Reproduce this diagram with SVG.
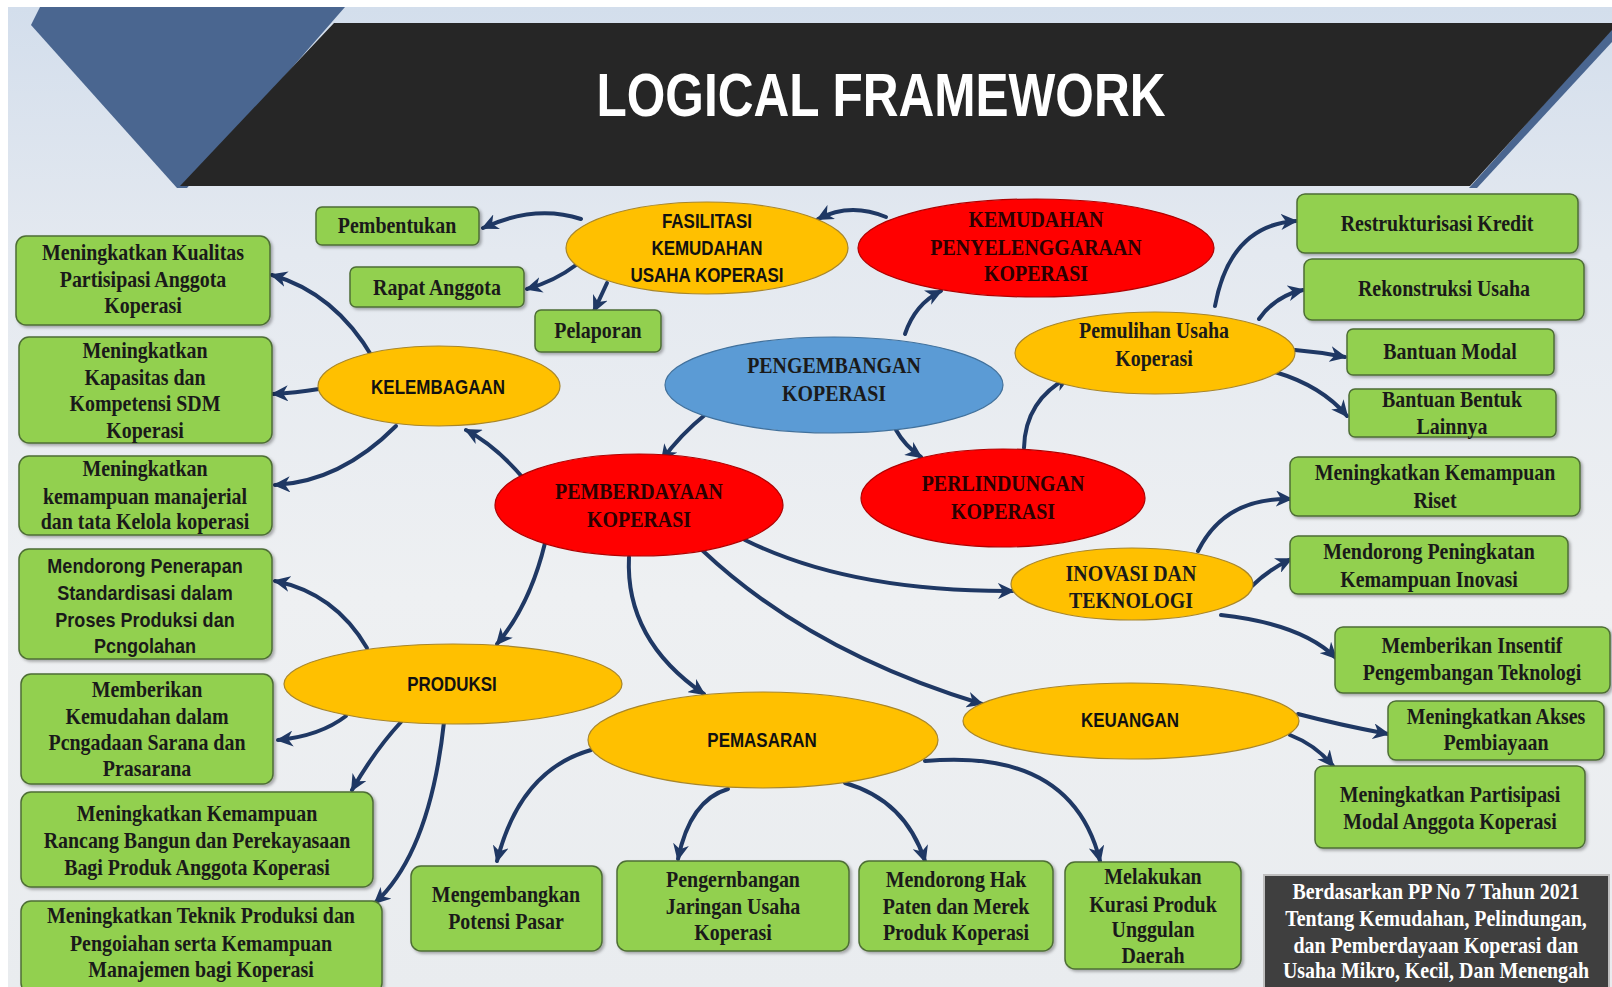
<svg xmlns="http://www.w3.org/2000/svg" width="1612" height="987" viewBox="0 0 1612 987">
<style>
.bg{fill:url(#bgg)}
.box{fill:#92D050;stroke:#4e6e35;stroke-width:1.5;filter:url(#sh)}
.yel{fill:#FFC000;stroke:#a8862a;stroke-width:1.2}
.red{fill:#FF0000;stroke:#b00000;stroke-width:1.2}
.blu{fill:#5B9BD5;stroke:#41719c;stroke-width:1.2}
.sf{font-family:"Liberation Serif","Times New Roman",serif;font-weight:bold;font-size:24px;fill:#1a1a1a;text-anchor:middle}
.sfr{font-family:"Liberation Serif","Times New Roman",serif;font-weight:bold;font-size:24px;fill:#2a0000;text-anchor:middle}
.sfw{font-family:"Liberation Serif","Times New Roman",serif;font-weight:bold;font-size:24px;fill:#ffffff;text-anchor:middle}
.ss{font-family:"Liberation Sans",Arial,sans-serif;font-weight:bold;font-size:19.5px;fill:#111;text-anchor:middle}
.ssb{font-family:"Liberation Sans",Arial,sans-serif;font-weight:bold;font-size:20.5px;fill:#1a1a1a;text-anchor:middle}
.con path{fill:none;stroke:#1f3864;stroke-width:4;stroke-linecap:round;marker-end:url(#ah)}
</style>
<defs>
<linearGradient id="bgg" x1="0" y1="0" x2="0" y2="1">
<stop offset="0" stop-color="#d3deec"/>
<stop offset="0.25" stop-color="#e4e9f0"/>
<stop offset="0.6" stop-color="#eef0f2"/>
<stop offset="1" stop-color="#e9ecef"/>
</linearGradient>
<filter id="sh" x="-5%" y="-10%" width="112%" height="125%">
<feDropShadow dx="2" dy="2" stdDeviation="1.5" flood-color="#000" flood-opacity="0.3"/>
</filter>
<marker id="ah" markerUnits="userSpaceOnUse" markerWidth="18" markerHeight="16" refX="15" refY="8" orient="auto">
<path d="M0,0 L17,8 L0,16 L5,8 z" fill="#1f3864"/>
</marker>
</defs>

<rect x="0" y="0" width="1612" height="987" fill="#ffffff"/>
<rect x="8" y="7" width="1604" height="980" class="bg"/>

<g id="banner">
<polygon points="40,7 345,7 187,188 177,188 31,25" fill="#4a6690"/>
<polygon points="1612,28 1612,42 1477,188 1469,188" fill="#4a6690"/>
<polygon points="334,23 1612,23 1612,30 1470,186 180,186" fill="#262626"/>
<text x="881" y="116" font-family="Liberation Sans, Arial, sans-serif" font-weight="bold" font-size="61" fill="#ffffff" text-anchor="middle" textLength="569" lengthAdjust="spacingAndGlyphs">LOGICAL FRAMEWORK</text>
</g>

<g class="con" id="connectors">
<path d="M581,219 Q535,204 483,228"/>
<path d="M576,265 Q555,281 527,289"/>
<path d="M607,283 Q600,298 594,311"/>
<path d="M886,217 Q850,202 818,219"/>
<path d="M905,334 Q915,304 941,291"/>
<path d="M706,414 Q680,435 662,460"/>
<path d="M896,430 Q905,446 921,457"/>
<path d="M1024,448 Q1025,400 1069,377"/>
<path d="M1215,306 Q1230,225 1296,221"/>
<path d="M1259,319 Q1275,296 1303,290"/>
<path d="M1295,350 Q1320,352 1345,357"/>
<path d="M1275,372 Q1322,386 1347,416"/>
<path d="M524,479 Q495,445 466,430"/>
<path d="M373,358 Q335,293 272,275"/>
<path d="M319,389 Q295,393 273,394"/>
<path d="M396,426 Q340,482 275,485"/>
<path d="M545,543 Q530,605 497,644"/>
<path d="M629,557 Q625,640 704,694"/>
<path d="M702,550 Q810,652 982,704"/>
<path d="M745,540 Q850,592 1013,591"/>
<path d="M1198,551 Q1225,497 1291,499"/>
<path d="M1252,586 Q1268,570 1291,559"/>
<path d="M1221,615 Q1302,624 1336,658"/>
<path d="M1298,714 Q1340,725 1388,734"/>
<path d="M1290,735 Q1316,745 1333,766"/>
<path d="M367,648 Q335,593 275,581"/>
<path d="M346,716 Q320,736 278,740"/>
<path d="M401,722 Q375,750 352,790"/>
<path d="M444,722 Q430,852 375,903"/>
<path d="M591,750 Q520,770 497,861"/>
<path d="M728,789 Q690,800 678,859"/>
<path d="M845,783 Q905,800 925,861"/>
<path d="M925,761 Q1072,748 1100,861"/>
</g>

<g id="n-fasilitasi"><ellipse class="yel" cx="707" cy="248" rx="141" ry="46"/>
<text class="ss" transform="translate(707,0) scale(.87,1)"><tspan x="0" y="228">FASILITASI</tspan><tspan x="0" y="255">KEMUDAHAN</tspan><tspan x="0" y="282">USAHA KOPERASI</tspan></text></g>
<g id="n-kemudahan"><ellipse class="red" cx="1036" cy="248" rx="178" ry="49"/>
<text class="sfr" transform="translate(1036,0) scale(.83,1)"><tspan x="0" y="227">KEMUDAHAN</tspan><tspan x="0" y="255">PENYELENGGARAAN</tspan><tspan x="0" y="281">KOPERASI</tspan></text></g>
<g id="n-pengembangan"><ellipse class="blu" cx="834" cy="385" rx="169" ry="48"/>
<text class="sf" transform="translate(834,0) scale(.83,1)"><tspan x="0" y="373">PENGEMBANGAN</tspan><tspan x="0" y="401">KOPERASI</tspan></text></g>
<g id="n-kelembagaan"><ellipse class="yel" cx="439" cy="386" rx="121" ry="40"/>
<text class="ss" transform="translate(438,0) scale(.87,1)"><tspan x="0" y="394">KELEMBAGAAN</tspan></text></g>
<g id="n-pemberdayaan"><ellipse class="red" cx="639" cy="505" rx="144" ry="51"/>
<text class="sfr" transform="translate(639,0) scale(.83,1)"><tspan x="0" y="499">PEMBERDAYAAN</tspan><tspan x="0" y="527">KOPERASI</tspan></text></g>
<g id="n-perlindungan"><ellipse class="red" cx="1003" cy="498" rx="142" ry="49"/>
<text class="sfr" transform="translate(1003,0) scale(.83,1)"><tspan x="0" y="491">PERLINDUNGAN</tspan><tspan x="0" y="519">KOPERASI</tspan></text></g>
<g id="n-pemulihan"><ellipse class="yel" cx="1155" cy="353" rx="140" ry="41"/>
<text class="sf" transform="translate(1154,0) scale(.83,1)"><tspan x="0" y="338">Pemulihan  Usaha</tspan><tspan x="0" y="366">Koperasi</tspan></text></g>
<g id="n-inovasi"><ellipse class="yel" cx="1132" cy="584" rx="121" ry="36"/>
<text class="sf" transform="translate(1131,0) scale(.83,1)"><tspan x="0" y="581">INOVASI DAN</tspan><tspan x="0" y="608">TEKNOLOGI</tspan></text></g>
<g id="n-produksi"><ellipse class="yel" cx="453" cy="684" rx="169" ry="40"/>
<text class="ss" transform="translate(452,0) scale(.87,1)"><tspan x="0" y="691">PRODUKSI</tspan></text></g>
<g id="n-pemasaran"><ellipse class="yel" cx="763" cy="740" rx="175" ry="48"/>
<text class="ss" transform="translate(762,0) scale(.87,1)"><tspan x="0" y="747">PEMASARAN</tspan></text></g>
<g id="n-keuangan"><ellipse class="yel" cx="1131" cy="721" rx="168" ry="38"/>
<text class="ss" transform="translate(1130,0) scale(.87,1)"><tspan x="0" y="727">KEUANGAN</tspan></text></g>

<g id="b-pembentukan"><rect class="box" x="316" y="207" width="163" height="38" rx="6"/>
<text class="sf" transform="translate(397,0) scale(.83,1)"><tspan x="0" y="233">Pembentukan</tspan></text></g>
<g id="b-rapat"><rect class="box" x="350" y="267" width="174" height="40" rx="6"/>
<text class="sf" transform="translate(437,0) scale(.83,1)"><tspan x="0" y="295">Rapat Anggota</tspan></text></g>
<g id="b-pelaporan"><rect class="box" x="535" y="310" width="126" height="42" rx="6"/>
<text class="sf" transform="translate(598,0) scale(.83,1)"><tspan x="0" y="338">Pelaporan</tspan></text></g>
<g id="b-kualitas"><rect class="box" x="16" y="236" width="254" height="89" rx="10"/>
<text class="sf" transform="translate(143,0) scale(.83,1)"><tspan x="0" y="260">Meningkatkan Kualitas</tspan><tspan x="0" y="287">Partisipasi Anggota</tspan><tspan x="0" y="313">Koperasi</tspan></text></g>
<g id="b-kapasitas"><rect class="box" x="19" y="337" width="253" height="106" rx="10"/>
<text class="sf" transform="translate(145,0) scale(.83,1)"><tspan x="0" y="358">Meningkatkan</tspan><tspan x="0" y="385">Kapasitas dan</tspan><tspan x="0" y="411">Kompetensi SDM</tspan><tspan x="0" y="438">Koperasi</tspan></text></g>
<g id="b-manajerial"><rect class="box" x="19" y="456" width="253" height="79" rx="10"/>
<text class="sf" transform="translate(145,0) scale(.83,1)"><tspan x="0" y="476">Meningkatkan</tspan><tspan x="0" y="504">kemampuan  manajerial</tspan><tspan x="0" y="529">dan tata Kelola koperasi</tspan></text></g>
<g id="b-standardisasi"><rect class="box" x="19" y="549" width="253" height="110" rx="10"/>
<text class="ssb" transform="translate(145,0) scale(.88,1)"><tspan x="0" y="573">Mendorong Penerapan</tspan><tspan x="0" y="600">Standardisasi dalam</tspan><tspan x="0" y="627">Proses Produksi dan</tspan><tspan x="0" y="653">Pcngolahan</tspan></text></g>
<g id="b-pengadaan"><rect class="box" x="21" y="674" width="252" height="110" rx="10"/>
<text class="sf" transform="translate(147,0) scale(.83,1)"><tspan x="0" y="697">Memberikan</tspan><tspan x="0" y="724">Kemudahan  dalam</tspan><tspan x="0" y="750">Pcngadaan  Sarana  dan</tspan><tspan x="0" y="776">Prasarana</tspan></text></g>
<g id="b-rancang"><rect class="box" x="21" y="792" width="352" height="95" rx="10"/>
<text class="sf" transform="translate(197,0) scale(.83,1)"><tspan x="0" y="821">Meningkatkan Kemampuan</tspan><tspan x="0" y="848">Rancang Bangun  dan  Perekayasaan</tspan><tspan x="0" y="875">Bagi Produk  Anggota  Koperasi</tspan></text></g>
<g id="b-teknik"><rect class="box" x="21" y="901" width="361" height="92" rx="10"/>
<text class="sf" transform="translate(201,0) scale(.83,1)"><tspan x="0" y="923">Meningkatkan Teknik Produksi  dan</tspan><tspan x="0" y="951">Pengoiahan  serta Kemampuan</tspan><tspan x="0" y="977">Manajemen  bagi Koperasi</tspan></text></g>
<g id="b-potensi"><rect class="box" x="411" y="866" width="191" height="85" rx="10"/>
<text class="sf" transform="translate(506,0) scale(.83,1)"><tspan x="0" y="902">Mengembangkan</tspan><tspan x="0" y="929">Potensi Pasar</tspan></text></g>
<g id="b-jaringan"><rect class="box" x="617" y="861" width="232" height="90" rx="10"/>
<text class="sf" transform="translate(733,0) scale(.83,1)"><tspan x="0" y="887">Pengernbangan</tspan><tspan x="0" y="914">Jaringan  Usaha</tspan><tspan x="0" y="940">Koperasi</tspan></text></g>
<g id="b-paten"><rect class="box" x="859" y="861" width="194" height="90" rx="10"/>
<text class="sf" transform="translate(956,0) scale(.83,1)"><tspan x="0" y="887">Mendorong Hak</tspan><tspan x="0" y="914">Paten  dan  Merek</tspan><tspan x="0" y="940">Produk  Koperasi</tspan></text></g>
<g id="b-kurasi"><rect class="box" x="1065" y="862" width="176" height="107" rx="10"/>
<text class="sf" transform="translate(1153,0) scale(.83,1)"><tspan x="0" y="884">Melakukan</tspan><tspan x="0" y="912">Kurasi Produk</tspan><tspan x="0" y="937">Unggulan</tspan><tspan x="0" y="963">Daerah</tspan></text></g>
<g id="b-dasar"><rect x="1264" y="875" width="345" height="115" fill="#3f3f3f" stroke="#bfbfbf" stroke-width="2"/>
<text class="sfw" transform="translate(1436,0) scale(.83,1)"><tspan x="0" y="899">Berdasarkan  PP No 7 Tahun  2021</tspan><tspan x="0" y="926">Tentang Kemudahan,  Pelindungan,</tspan><tspan x="0" y="953">dan Pemberdayaan  Koperasi dan</tspan><tspan x="0" y="978">Usaha Mikro, Kecil, Dan Menengah</tspan></text></g>
<g id="b-restrukturisasi"><rect class="box" x="1297" y="194" width="281" height="59" rx="8"/>
<text class="sf" transform="translate(1437,0) scale(.83,1)"><tspan x="0" y="231">Restrukturisasi Kredit</tspan></text></g>
<g id="b-rekonstruksi"><rect class="box" x="1304" y="259" width="280" height="61" rx="8"/>
<text class="sf" transform="translate(1444,0) scale(.83,1)"><tspan x="0" y="296">Rekonstruksi Usaha</tspan></text></g>
<g id="b-modal"><rect class="box" x="1347" y="329" width="207" height="46" rx="6"/>
<text class="sf" transform="translate(1450,0) scale(.83,1)"><tspan x="0" y="359">Bantuan  Modal</tspan></text></g>
<g id="b-lainnya"><rect class="box" x="1349" y="389" width="207" height="48" rx="6"/>
<text class="sf" transform="translate(1452,0) scale(.83,1)"><tspan x="0" y="407">Bantuan  Bentuk</tspan><tspan x="0" y="434">Lainnya</tspan></text></g>
<g id="b-riset"><rect class="box" x="1290" y="457" width="290" height="59" rx="8"/>
<text class="sf" transform="translate(1435,0) scale(.83,1)"><tspan x="0" y="480">Meningkatkan Kemampuan</tspan><tspan x="0" y="508">Riset</tspan></text></g>
<g id="b-inovasi"><rect class="box" x="1290" y="536" width="278" height="58" rx="8"/>
<text class="sf" transform="translate(1429,0) scale(.83,1)"><tspan x="0" y="559">Mendorong Peningkatan</tspan><tspan x="0" y="587">Kemampuan  Inovasi</tspan></text></g>
<g id="b-insentif"><rect class="box" x="1335" y="627" width="275" height="66" rx="8"/>
<text class="sf" transform="translate(1472,0) scale(.83,1)"><tspan x="0" y="653">Memberikan Insentif</tspan><tspan x="0" y="680">Pengembangan  Teknologi</tspan></text></g>
<g id="b-akses"><rect class="box" x="1388" y="701" width="216" height="59" rx="8"/>
<text class="sf" transform="translate(1496,0) scale(.83,1)"><tspan x="0" y="724">Meningkatkan Akses</tspan><tspan x="0" y="750">Pembiayaan</tspan></text></g>
<g id="b-partisipasi"><rect class="box" x="1315" y="766" width="270" height="82" rx="8"/>
<text class="sf" transform="translate(1450,0) scale(.83,1)"><tspan x="0" y="802">Meningkatkan Partisipasi</tspan><tspan x="0" y="829">Modal Anggota Koperasi</tspan></text></g>
</svg>
